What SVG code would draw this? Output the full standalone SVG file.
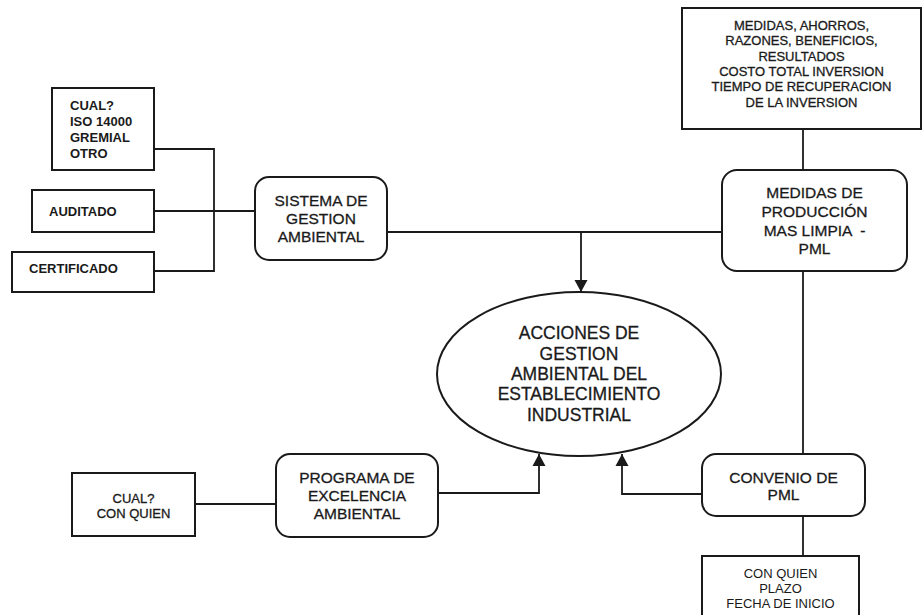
<svg xmlns="http://www.w3.org/2000/svg" width="922" height="615" viewBox="0 0 922 615">
<style>
.box{fill:#fff;stroke:#1a1a1a;stroke-width:2}
.line{fill:none;stroke:#1a1a1a;stroke-width:1.8}
text{font-family:"Liberation Sans",Arial,sans-serif;fill:#1a1a1a}
.s{font-size:13px}
.b{font-weight:bold}
.m{font-size:15.5px;text-anchor:middle;stroke:#1a1a1a;stroke-width:0.3}
.e{font-size:17.5px;text-anchor:middle;stroke:#1a1a1a;stroke-width:0.3}
.c{text-anchor:middle}
.r{stroke:#1a1a1a;stroke-width:0.3}
</style>
<defs>
<marker id="arr" markerUnits="userSpaceOnUse" markerWidth="14" markerHeight="14" refX="12" refY="7" orient="auto">
<path d="M0,0.5 L12,7 L0,13.5 Z" fill="#1a1a1a"/>
</marker>
</defs>
<rect width="922" height="615" fill="#fff"/>
<g id="connectors">
<polyline class="line" points="154,149 214,149 214,271 154,271"/>
<line class="line" x1="154" y1="211" x2="255" y2="211"/>
<line class="line" x1="387" y1="232" x2="722" y2="232"/>
<line class="line" x1="581" y1="232" x2="581" y2="292" marker-end="url(#arr)"/>
<line class="line" x1="803" y1="129" x2="803" y2="170"/>
<line class="line" x1="803" y1="271" x2="803" y2="454"/>
<line class="line" x1="803" y1="516" x2="803" y2="556"/>
<polyline class="line" points="702,494 622,494 622,454" marker-end="url(#arr)"/>
<line class="line" x1="195" y1="504" x2="276" y2="504"/>
<polyline class="line" points="438,493 539,493 539,454" marker-end="url(#arr)"/>
</g>
<g id="cual-iso">
<rect class="box" x="52" y="88" width="102" height="82"/>
<text class="s b" x="70" y="109.7">CUAL?</text>
<text class="s b" x="70" y="125.7">ISO 14000</text>
<text class="s b" x="70" y="141.7">GREMIAL</text>
<text class="s b" x="70" y="157.7">OTRO</text>
</g>
<g id="auditado">
<rect class="box" x="32" y="190" width="122" height="42"/>
<text class="s b" x="49" y="215.7">AUDITADO</text>
</g>
<g id="certificado">
<rect class="box" x="12" y="252" width="142" height="40"/>
<text class="s b" x="29" y="273">CERTIFICADO</text>
</g>
<g id="sga">
<rect class="box" x="255" y="177" width="132" height="83" rx="14"/>
<text class="m" x="321" y="205.5">SISTEMA DE</text>
<text class="m" x="321" y="223.5">GESTION</text>
<text class="m" x="321" y="241.5">AMBIENTAL</text>
</g>
<g id="medidas-top">
<rect class="box" x="682" y="8" width="239" height="121"/>
<text class="s r c" x="801.5" y="29.7">MEDIDAS, AHORROS,</text>
<text class="s r c" x="801.5" y="45">RAZONES, BENEFICIOS,</text>
<text class="s r c" x="801.5" y="60.5">RESULTADOS</text>
<text class="s r c" x="801.5" y="76">COSTO TOTAL INVERSION</text>
<text class="s r c" x="801.5" y="91.3">TIEMPO DE RECUPERACION</text>
<text class="s r c" x="801.5" y="106.7">DE LA INVERSION</text>
</g>
<g id="pml">
<rect class="box" x="722" y="170" width="185" height="101" rx="15"/>
<text class="m" x="814.5" y="197.5">MEDIDAS DE</text>
<text class="m" x="814.5" y="216.5">PRODUCCIÓN</text>
<text class="m" x="814.5" y="235.5" style="white-space:pre">MAS LIMPIA  -</text>
<text class="m" x="814.5" y="253.5">PML</text>
</g>
<g id="acciones">
<ellipse cx="579" cy="374" rx="142" ry="82" fill="#fff" stroke="#1a1a1a" stroke-width="2"/>
<text class="e" x="579" y="339.3">ACCIONES DE</text>
<text class="e" x="579" y="359.5">GESTION</text>
<text class="e" x="579" y="380">AMBIENTAL DEL</text>
<text class="e" x="579" y="400.3">ESTABLECIMIENTO</text>
<text class="e" x="579" y="421">INDUSTRIAL</text>
</g>
<g id="cual-quien">
<rect class="box" x="72" y="473" width="123" height="63"/>
<text class="s r c" x="133.5" y="502.7">CUAL?</text>
<text class="s r c" x="133.5" y="517.7">CON QUIEN</text>
</g>
<g id="programa">
<rect class="box" x="276" y="454" width="162" height="83" rx="14"/>
<text class="m" x="357" y="482.5">PROGRAMA DE</text>
<text class="m" x="357" y="500.5">EXCELENCIA</text>
<text class="m" x="357" y="518.5">AMBIENTAL</text>
</g>
<g id="convenio">
<rect class="box" x="702" y="454" width="163" height="62" rx="14"/>
<text class="m" x="783.5" y="482.5">CONVENIO DE</text>
<text class="m" x="783.5" y="499.5">PML</text>
</g>
<g id="plazo">
<rect class="box" x="702" y="556" width="157" height="70"/>
<text class="s c" x="780.5" y="577.7">CON QUIEN</text>
<text class="s c" x="780.5" y="592.7">PLAZO</text>
<text class="s c" x="780.5" y="607.7">FECHA DE INICIO</text>
</g>
</svg>
